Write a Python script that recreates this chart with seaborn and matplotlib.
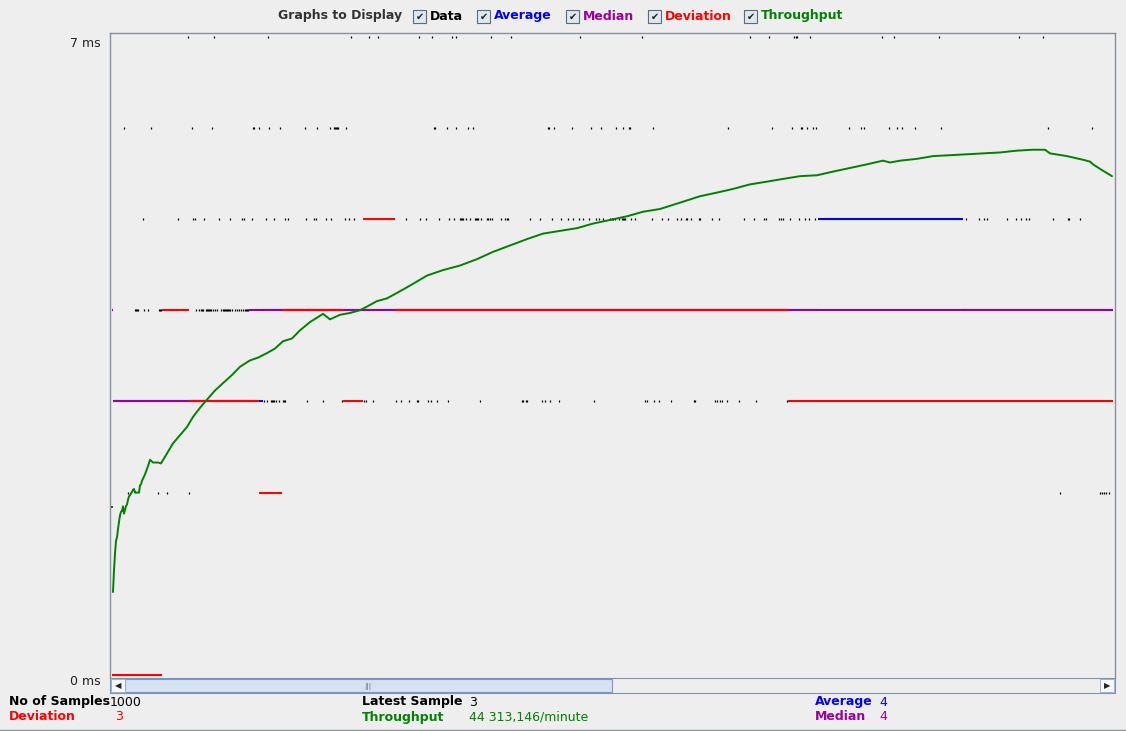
import pandas as pd
import seaborn as sns
import matplotlib.pyplot as plt
from matplotlib.patches import Rectangle

# sample numbers (0..1000) whose response time is visible at each level
ms7 = [76, 102, 156, 239, 257, 266, 307, 320, 340, 344, 379, 399, 468, 530, 638, 657,
       682, 684, 685, 698, 770, 782, 827, 907, 931]
ms6 = [12, 39, 80, 100, 141, 142, 147, 157, 168, 193, 205, 218, 222, 223, 224, 225, 226,
       234, 322, 323, 335, 344, 356, 361, 436, 437, 442, 460, 479, 489, 504, 511, 517, 518,
       541, 616, 660, 680, 689, 690, 695, 701, 704, 737, 749, 752, 777, 785, 790, 803, 829,
       936, 980]
ms5 = [31, 66, 81, 83, 92, 107, 118, 130, 132, 140, 154, 162, 173, 176, 194, 202, 204, 214,
       219, 233, 237, 242, 294, 308, 314, 327, 337, 342, 348, 349, 350, 351, 354, 358, 363,
       364, 365, 366, 369, 375, 376, 378, 380, 389, 393, 395, 396, 418, 428, 440, 449, 456,
       461, 467, 471, 477, 484, 487, 491, 498, 500, 501, 503, 507, 510, 511, 512, 513, 519,
       523, 540, 550, 556, 565, 569, 574, 575, 579, 587, 588, 600, 607, 632, 642, 652, 654,
       667, 669, 671, 678, 687, 693, 697, 703, 854, 867, 872, 875, 895, 904, 909, 914, 917,
       941, 956, 957, 968]
ms4 = [23, 24, 25, 26, 32, 36, 47, 48, 49, 84, 87, 89, 90, 91, 94, 95, 96, 97, 98, 99, 101,
       103, 105, 109, 111, 112, 113, 114, 115, 116, 117, 118, 120, 123, 125, 127, 129, 131,
       133, 134, 135, 136]
ms3 = [152, 155, 159, 160, 161, 162, 164, 167, 171, 172, 173, 195, 211, 230, 252, 254, 261,
       284, 289, 297, 305, 306, 316, 319, 325, 336, 368, 410, 411, 414, 415, 430, 433, 438,
       447, 482, 533, 535, 542, 547, 559, 582, 583, 603, 605, 608, 610, 615, 627, 644, 675]
ms2 = [16, 46, 55, 77, 948, 988, 990, 992, 994, 997]

# running statistics as steps: start sample, end sample, value in ms
avg_start = [0, 1, 151, 706, 851]
avg_end = [1, 151, 706, 851, 1001]
avg_ms = [4, 3, 4, 5, 4]

med_start = [0, 1, 137]
med_end = [1, 137, 1001]
med_ms = [4, 3, 4]

dev_start = [0, 50, 77, 147, 170, 231, 251, 283, 676]
dev_end = [50, 77, 147, 170, 231, 251, 283, 676, 1001]
dev_ms = [0, 4, 3, 2, 4, 3, 5, 4, 3]

# throughput, scaled onto the ms axis
tp_sample = [0, 1, 2, 3, 4, 5, 6, 7, 8, 9, 10, 11, 12, 13, 14, 15, 16, 17, 18, 19, 20, 21,
             22, 23, 24, 27, 28, 29, 30, 33, 36, 38, 41, 46, 49, 55, 61, 68, 75, 81, 88, 95,
             103, 111, 120, 128, 138, 146, 155, 163, 171, 180, 188, 198, 211, 218, 228, 238,
             248, 255, 265, 275, 285, 298, 315, 331, 348, 365, 381, 398, 415, 431, 448, 465,
             481, 498, 515, 531, 548, 571, 588, 605, 621, 638, 655, 671, 688, 705, 721,
             738, 755, 771, 778, 788, 805, 821, 838, 855, 871, 888, 905, 921, 933, 938, 955,
             971, 978, 981, 988, 1000]
tp_ms = [1.84, 0.91, 1.15, 1.33, 1.47, 1.51, 1.60, 1.68, 1.75, 1.79, 1.80, 1.85, 1.77, 1.81,
         1.85, 1.87, 1.92, 1.96, 1.97, 1.99, 2.01, 2.03, 2.04, 2.00, 2.00, 2.00, 2.08, 2.09,
         2.13, 2.20, 2.29, 2.36, 2.33, 2.33, 2.32, 2.43, 2.54, 2.63, 2.72, 2.83, 2.93, 3.02,
         3.12, 3.20, 3.29, 3.38, 3.45, 3.48, 3.53, 3.58, 3.66, 3.69, 3.78, 3.87, 3.96, 3.90,
         3.95, 3.97, 4.00, 4.04, 4.10, 4.13, 4.19, 4.27, 4.38, 4.44, 4.49, 4.56, 4.64, 4.71,
         4.78, 4.84, 4.87, 4.90, 4.95, 4.99, 5.03, 5.08, 5.11, 5.19, 5.25, 5.29, 5.33,
         5.38, 5.41, 5.44, 5.47, 5.48, 5.52, 5.56, 5.60, 5.64, 5.62, 5.64, 5.66, 5.69, 5.70,
         5.71, 5.72, 5.73, 5.75, 5.76, 5.76, 5.72, 5.69, 5.65, 5.63, 5.60, 5.55, 5.47]

header = ['Data', 'Average', 'Median', 'Deviation', 'Throughput']
c_data, c_avg, c_med, c_dev, c_tp = 'black', '#0000ff', '#990099', '#ff0000', '#008000'
bg = '#eeeeee'

W, H = 1126, 731


def fx(x):
    return x / W


def fy(y):
    return 1 - y / H


sns.set_theme(style='white')
plt.rcParams['font.family'] = ['DejaVu Sans']

fig = plt.figure(figsize=(W / 100, H / 100), dpi=100, facecolor=bg)
ax = fig.add_axes([fx(110), fy(678), fx(1115) - fx(110), fy(33) - fy(678)], facecolor=bg)

pts = pd.DataFrame({
    'sample': ms7 + ms6 + ms5 + ms4 + ms3 + ms2,
    'ms': [7] * len(ms7) + [6] * len(ms6) + [5] * len(ms5) + [4] * len(ms4)
          + [3] * len(ms3) + [2] * len(ms2),
})
sns.scatterplot(data=pts, x='sample', y='ms', marker='|', s=2.5, linewidth=0.9,
                color=c_data, ax=ax, legend=False, zorder=2)

ax.hlines(avg_ms, avg_start, avg_end, color=c_avg, lw=1.5, zorder=3)
ax.hlines(med_ms, med_start, med_end, color=c_med, lw=1.5, zorder=4)
ax.hlines(dev_ms, dev_start, dev_end, color=c_dev, lw=1.5, zorder=5)

tp = pd.DataFrame({'sample': tp_sample, 'ms': tp_ms})
sns.lineplot(data=tp.iloc[1:], x='sample', y='ms', color=c_tp, lw=1.4, ax=ax, zorder=6)
sns.scatterplot(data=tp.iloc[:1], x='sample', y='ms', marker='s', s=3, color=c_tp,
                linewidth=0, ax=ax, zorder=6)

ax.set_xlim(-2, 1003)
ax.set_ylim(-0.033, 7.04)
ax.set_xticks([])
ax.set_yticks([0, 7])
ax.set_yticklabels(['0 ms', '7 ms'])
ax.tick_params(axis='y', length=0, pad=7, labelsize=9, labelcolor='#222222')
for lab in ax.get_yticklabels():
    lab.set_va('top')
ax.set_xlabel('')
ax.set_ylabel('')
for side in ['left', 'top', 'right']:
    ax.spines[side].set_color('#8a9099')
    ax.spines[side].set_linewidth(1.0)
ax.spines['bottom'].set_visible(False)

# header with the check boxes
fig.text(fx(278), fy(16), 'Graphs to Display', fontsize=9, fontweight='bold',
         color='#333333', va='center')
box_x = [413, 477, 566, 648, 744]
head_colors = [c_data, c_avg, c_med, c_dev, c_tp]
for bx, name, col in zip(box_x, header, head_colors):
    fig.patches.append(Rectangle((fx(bx), fy(23)), fx(13), 13 / H, transform=fig.transFigure,
                                 facecolor='#dfe7ef', edgecolor='#5b6b80', lw=0.8))
    fig.text(fx(bx + 6.5), fy(16.5), '\u2714', fontsize=7, color='#202020',
             ha='center', va='center')
    fig.text(fx(bx + 17), fy(16), name, fontsize=9, fontweight='bold', color=col,
             va='center')

# scroll bar under the graph
fig.patches.append(Rectangle((fx(110), fy(693)), fx(1005), 15 / H, transform=fig.transFigure,
                             facecolor=bg, edgecolor='#7f93b5', lw=0.8))
fig.patches.append(Rectangle((fx(125), fy(692)), fx(487), 13 / H, transform=fig.transFigure,
                             facecolor='#d4e2f2', edgecolor='#7b98c4', lw=0.8))
fig.patches.append(Rectangle((fx(111), fy(692)), fx(14), 13 / H, transform=fig.transFigure,
                             facecolor='#f4f6f9', edgecolor='#9aa8bd', lw=0.6))
fig.patches.append(Rectangle((fx(1100), fy(692)), fx(14), 13 / H, transform=fig.transFigure,
                             facecolor='#f4f6f9', edgecolor='#9aa8bd', lw=0.6))
fig.text(fx(118), fy(686), '\u25c0', fontsize=6, color='#222222', ha='center', va='center')
fig.text(fx(1107), fy(686), '\u25b6', fontsize=6, color='#222222', ha='center', va='center')
fig.text(fx(368), fy(686), '|||', fontsize=5, color='#5a6f90', ha='center', va='center')

# summary at the bottom
rows = [
    (9, 702, 'No of Samples', True, c_data), (110, 702, '1000', False, c_data),
    (362, 702, 'Latest Sample', True, c_data), (469, 702, '3', False, c_data),
    (815, 702, 'Average', True, c_avg), (879, 702, '4', False, c_avg),
    (9, 717, 'Deviation', True, c_dev), (115, 717, '3', False, c_dev),
    (362, 717, 'Throughput', True, c_tp), (469, 717, '44 313,146/minute', False, c_tp),
    (815, 717, 'Median', True, c_med), (879, 717, '4', False, c_med),
]
for x, y, s, bold, col in rows:
    fig.text(fx(x), fy(y), s, fontsize=9, fontweight='bold' if bold else 'normal',
             color=col, va='center')

fig.add_artist(plt.Line2D([0, 1], [fy(729.5), fy(729.5)], transform=fig.transFigure,
                          color='#8a9099', lw=1))

fig.savefig('out.png', dpi=100, facecolor=bg)
